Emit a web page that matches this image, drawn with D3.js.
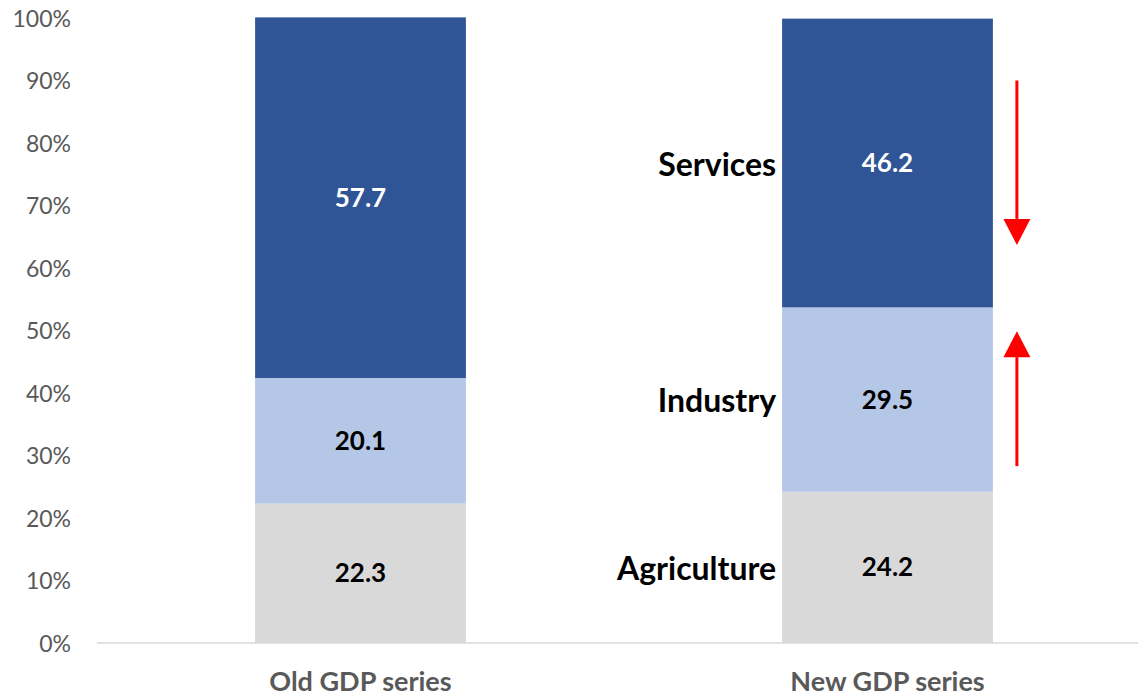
<!DOCTYPE html>
<html>
<head>
<meta charset="utf-8">
<script src="https://d3js.org/d3.v7.min.js"></script>
<style>
  body { margin: 0; background: #fff; }
  text { font-family: Lato, "Open Sans", sans-serif; }
</style>
</head>
<body>
<svg id="chart" width="1138" height="697"></svg>
<script>
// data
var categories = ["Old GDP series", "New GDP series"];
var sectors = ["Agriculture", "Industry", "Services"];
var agriculture = [22.3, 24.2];
var industry = [20.1, 29.5];
var services = [57.7, 46.2];
var yTicks = [0, 10, 20, 30, 40, 50, 60, 70, 80, 90, 100];
// arrows next to the new series: [from %, to %]
var arrows = [[90, 63.7], [28.3, 49.9]];

var colors = { Agriculture: "#D9D9D9", Industry: "#B4C7E7", Services: "#2F5597" };
var valueColors = { Agriculture: "#000", Industry: "#000", Services: "#fff" };

var svg = d3.select("#chart");

var x = d3.scaleBand()
    .domain(categories)
    .range([97, 1151])
    .paddingInner(0.6)
    .paddingOuter(0.3);

var y = d3.scaleLinear().domain([0, 100]).range([643, 18]);

var rows = categories.map(function(c, i) {
  return { cat: c, Agriculture: agriculture[i], Industry: industry[i], Services: services[i] };
});
var series = d3.stack().keys(sectors)(rows);

// y axis labels
var yAxis = svg.append("g")
    .attr("transform", "translate(71,0)")
    .call(d3.axisLeft(y).tickValues(yTicks).tickFormat(function(d) { return d + "%"; }).tickSize(0).tickPadding(0));
yAxis.select(".domain").remove();
yAxis.selectAll("text")
    .attr("fill", "#595959")
    .style("font-size", "23px")
    .attr("dy", "0.35em");

// bars
var layer = svg.selectAll("g.layer")
  .data(series)
  .enter().append("g")
    .attr("class", "layer")
    .attr("fill", function(d) { return colors[d.key]; });

layer.selectAll("rect")
  .data(function(d) { return d; })
  .enter().append("rect")
    .attr("x", function(d) { return x(d.data.cat); })
    .attr("width", x.bandwidth())
    .attr("y", function(d) { return y(d[1]); })
    .attr("height", function(d) { return y(d[0]) - y(d[1]); });

// baseline
svg.append("line")
    .attr("x1", 97).attr("x2", 1138)
    .attr("y1", y(0)).attr("y2", y(0))
    .attr("stroke", "#D9D9D9")
    .attr("stroke-width", 1.5);

// value labels
series.forEach(function(s) {
  svg.selectAll(null)
    .data(s)
    .enter().append("text")
      .attr("x", function(d) { return x(d.data.cat) + x.bandwidth() / 2; })
      .attr("y", function(d) { return y((d[0] + d[1]) / 2); })
      .attr("dy", "0.35em")
      .attr("text-anchor", "middle")
      .attr("fill", valueColors[s.key])
      .style("font-size", "26px")
      .style("font-weight", "bold")
      .text(function(d) { return (d[1] - d[0]).toFixed(1); });
});

// sector names left of the new bar
var last = categories.length - 1;
svg.selectAll(null)
  .data(series)
  .enter().append("text")
    .attr("x", x(categories[last]) - 6)
    .attr("y", function(s) { return y((s[last][0] + s[last][1]) / 2); })
    .attr("dy", "0.4em")
    .attr("text-anchor", "end")
    .attr("fill", "#000")
    .style("font-size", "32px")
    .style("font-weight", "bold")
    .text(function(s) { return s.key; });

// category labels
svg.selectAll(null)
  .data(categories)
  .enter().append("text")
    .attr("x", function(d) { return x(d) + x.bandwidth() / 2; })
    .attr("y", 691)
    .attr("text-anchor", "middle")
    .attr("fill", "#595959")
    .style("font-size", "27px")
    .style("font-weight", "bold")
    .text(function(d) { return d; });

// red arrows
var ax = x(categories[last]) + x.bandwidth() + 24;
arrows.forEach(function(a) {
  var y0 = y(a[0]), y1 = y(a[1]);
  var dir = y1 > y0 ? 1 : -1;
  var headLen = 26, headW = 13.5;
  svg.append("line")
      .attr("x1", ax).attr("x2", ax)
      .attr("y1", y0).attr("y2", y1 - dir * headLen)
      .attr("stroke", "#FF0000")
      .attr("stroke-width", 3);
  svg.append("path")
      .attr("d", "M" + (ax - headW) + "," + (y1 - dir * headLen) +
                 "L" + (ax + headW) + "," + (y1 - dir * headLen) +
                 "L" + ax + "," + y1 + "Z")
      .attr("fill", "#FF0000");
});
</script>
</body>
</html>
